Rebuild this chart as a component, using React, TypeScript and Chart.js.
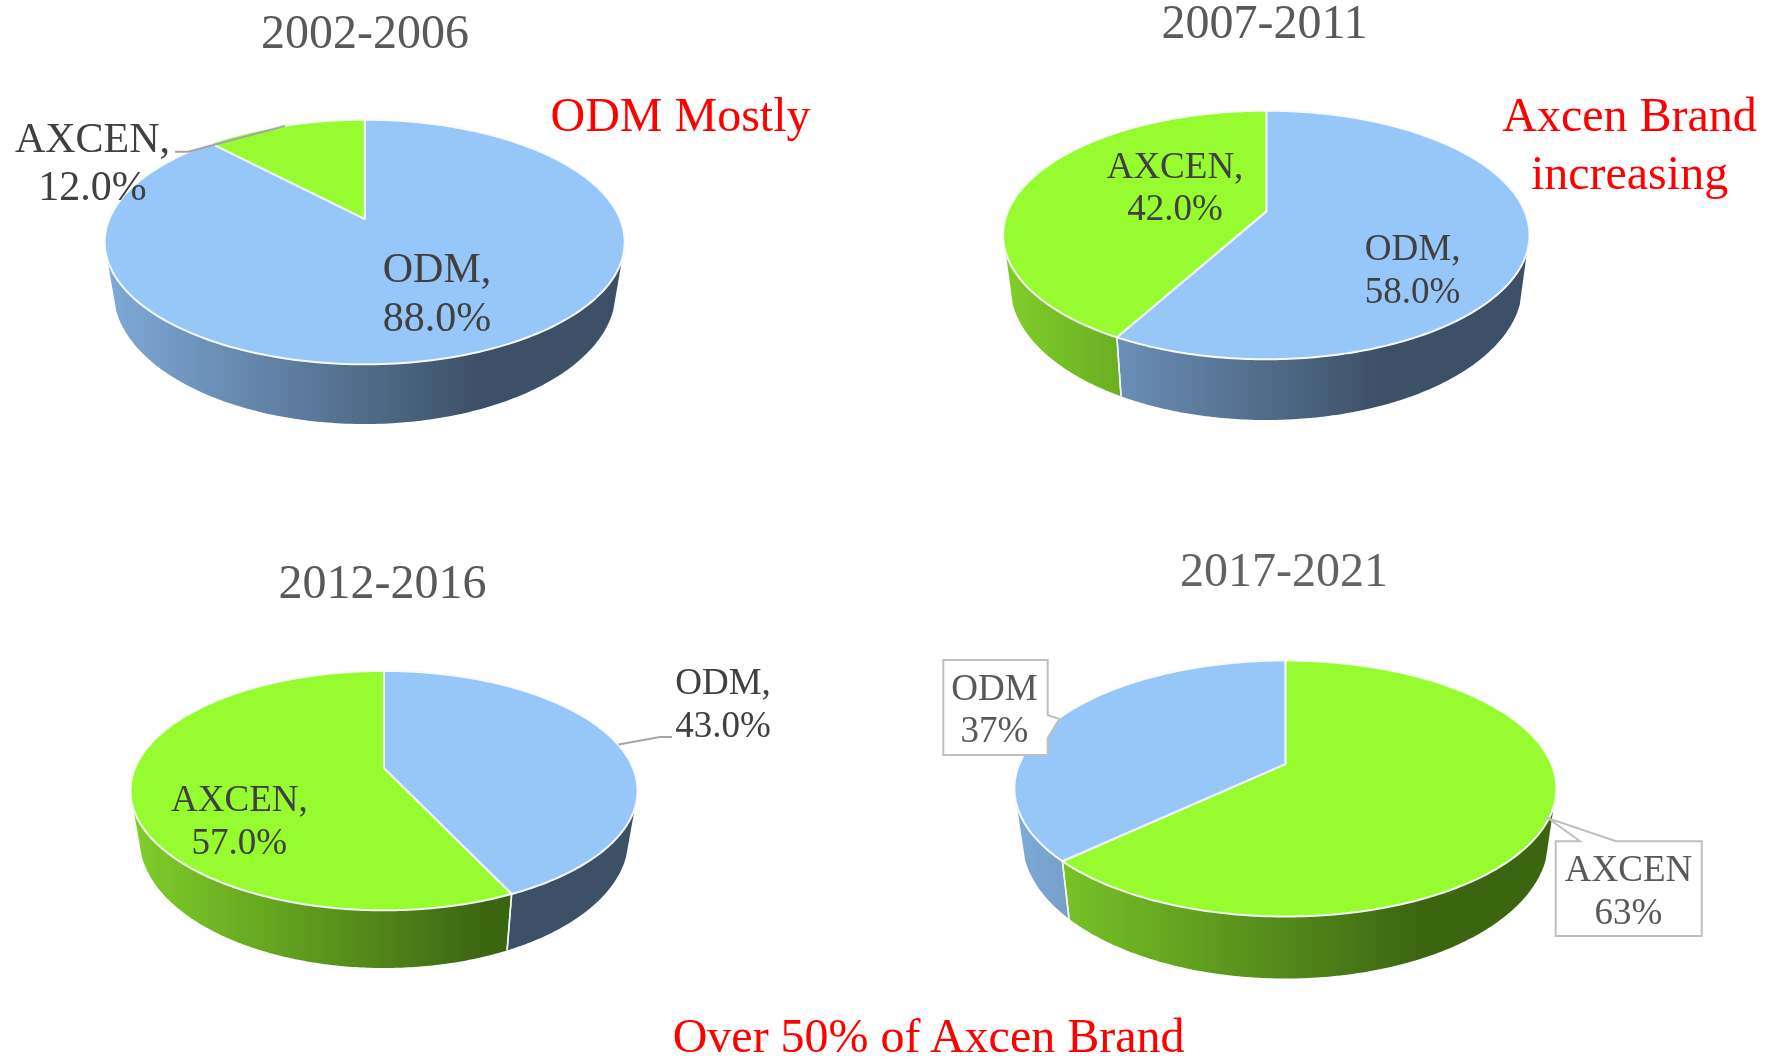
import React, { useEffect, useRef } from "react";
import { Chart, registerables } from "chart.js";

Chart.register(...registerables);

// ---- data ----
const PERIODS = ["2002-2006", "2007-2011", "2012-2016", "2017-2021"];
const ODM_SHARE = [88, 58, 43, 37];
const AXCEN_SHARE = [12, 42, 57, 63];
const AXCEN_FIRST = [false, false, false, true];
const ANNOTATIONS = ["ODM Mostly", "Axcen Brand", "increasing", "Over 50% of Axcen Brand"];

// ---- styles and layout ----
const W = 1768;
const H = 1059;
const SERIF = '"Liberation Serif", "Times New Roman", serif';
const TOP_COLOR: Record<string, string> = { ODM: "#97c6f9", AXCEN: "#97fc2f" };
const WALL_COLOR: Record<string, [string, string]> = {
  ODM: ["#7faad8", "#3c5067"],
  AXCEN: ["#80cf2a", "#3c6512"],
};

type Spot = { x: number; y1: number; y2: number };
type Layout = {
  cx: number; cy: number; rx: number; ry: number; k: number;
  rxB: number; bottom: number; titleX: number; titleY: number; fade: number;
  fontSize: number; textColor: string; callout: boolean;
  spots: Record<string, Spot>;
  leader?: number[][];
  boxes?: { x0: number; y0: number; x1: number; y1: number; wedge: number[][]; side: "right" | "top" }[];
};

const LAYOUTS: Layout[] = [
  {
    cx: 364.7, cy: 242, rx: 260, ry: 122.3, k: 0.189, rxB: 251, bottom: 424,
    titleX: 365, titleY: 35.5, fade: 0.72, fontSize: 42, textColor: "#404040", callout: false,
    spots: { AXCEN: { x: 92.5, y1: 152, y2: 200 }, ODM: { x: 437, y1: 282, y2: 331 } },
    leader: [[175, 151.7], [188.3, 151.7], [285, 126]],
  },
  {
    cx: 1266.3, cy: 235, rx: 263.2, ry: 124.3, k: 0.19, rxB: 256, bottom: 420,
    titleX: 1264.5, titleY: 25.5, fade: 0.72, fontSize: 37, textColor: "#404040", callout: false,
    spots: { AXCEN: { x: 1175, y1: 177.5, y2: 220 }, ODM: { x: 1412.6, y1: 260, y2: 303 } },
  },
  {
    cx: 384, cy: 790.6, rx: 253.5, ry: 119.7, k: 0.187, rxB: 244.5, bottom: 968,
    titleX: 382.5, titleY: 585, fade: 0.7, fontSize: 37, textColor: "#404040", callout: false,
    spots: { AXCEN: { x: 239.4, y1: 811, y2: 854 }, ODM: { x: 723, y1: 694, y2: 737 } },
    leader: [[618.5, 744.6], [660, 737], [672, 737]],
  },
  {
    cx: 1285.4, cy: 788.5, rx: 271, ry: 128, k: 0.19, rxB: 263, bottom: 978.5,
    titleX: 1284, titleY: 573, fade: 0.75, fontSize: 37, textColor: "#595959", callout: true,
    spots: { ODM: { x: 994.5, y1: 699.7, y2: 742 }, AXCEN: { x: 1628.5, y1: 881, y2: 924 } },
    boxes: [
      { x0: 943.3, y0: 660, x1: 1047.7, y1: 755, side: "right", wedge: [[1047.7, 715], [1059.3, 719], [1047.7, 738.3]] },
      { x0: 1555.7, y0: 841.3, x1: 1701.7, y1: 936, side: "top", wedge: [[1616, 841.3], [1548.3, 818.3], [1580, 841.3]] },
    ],
  },
];

// Perspective of the tilted disc: the hub sits above the middle of the ellipse.
function project(alpha: number, k: number) {
  const u = Math.cos(alpha);
  const v = -Math.sin(alpha);
  const d = 1 + k * v;
  return { u: (u * Math.sqrt(1 - k * k)) / d, v: (v + k) / d };
}

const WALL_START = -0.14; // edge of the wall, as a fraction of the vertical radius
const LOWER_RIM_STRETCH = 1.08; // the lower rim bulges more than the top rim

function makePlugin(layout: Layout) {
  const { cx, cy, rx, ry, k, rxB, bottom } = layout;
  const ryB = ry * LOWER_RIM_STRETCH;
  const cyB = bottom - ryB;
  const top = (a: number) => {
    const p = project(a, k);
    return [cx + rx * p.u, cy - ry * p.v];
  };
  const low = (a: number) => {
    const p = project(a, k);
    return [cx + rxB * p.u, cyB - ryB * p.v];
  };
  const vis = (WALL_START - k) / (1 - k * WALL_START);
  const a0 = Math.asin(-vis);
  const a1 = Math.PI - a0;

  return {
    id: "disc3d",
    beforeDatasetDraw(chart: any) {
      const ctx: CanvasRenderingContext2D = chart.ctx;
      const arcs = chart.getDatasetMeta(0).data;
      const names: string[] = chart.data.labels;
      ctx.save();
      // side walls
      arcs.forEach((arc: any, i: number) => {
        const s = Math.max(arc.startAngle, a0);
        const e = Math.min(arc.endAngle, a1);
        if (e <= s) return;
        const grad = ctx.createLinearGradient(cx - rx, 0, cx + rx, 0);
        const [light, dark] = WALL_COLOR[names[i]];
        grad.addColorStop(0, light);
        grad.addColorStop(layout.fade, dark);
        grad.addColorStop(1, dark);
        ctx.beginPath();
        const steps = 160;
        for (let j = 0; j <= steps; j++) {
          const [x, y] = top(s + ((e - s) * j) / steps);
          j ? ctx.lineTo(x, y) : ctx.moveTo(x, y);
        }
        for (let j = steps; j >= 0; j--) {
          const [x, y] = low(s + ((e - s) * j) / steps);
          ctx.lineTo(x, y);
        }
        ctx.closePath();
        ctx.fillStyle = grad;
        ctx.fill();
      });
      // white seam between wall pieces
      arcs.forEach((arc: any) => {
        [arc.startAngle, arc.endAngle].forEach((a: number) => {
          if (a <= a0 || a >= a1) return;
          const [x0, y0] = top(a);
          const [x1, y1] = low(a);
          ctx.beginPath();
          ctx.moveTo(x0, y0);
          ctx.lineTo(x1, y1);
          ctx.strokeStyle = "#f4f6f2";
          ctx.lineWidth = 1.5;
          ctx.stroke();
        });
      });
      // top faces
      arcs.forEach((arc: any) => {
        const s = arc.startAngle;
        const e = arc.endAngle;
        ctx.beginPath();
        ctx.moveTo(cx, cy - ry * k);
        const steps = 240;
        for (let j = 0; j <= steps; j++) {
          const [x, y] = top(s + ((e - s) * j) / steps);
          ctx.lineTo(x, y);
        }
        ctx.closePath();
        ctx.fillStyle = arc.options.backgroundColor;
        ctx.fill();
        ctx.strokeStyle = arc.options.borderColor;
        ctx.lineWidth = arc.options.borderWidth;
        ctx.lineJoin = "round";
        ctx.stroke();
      });
      ctx.restore();
      return false;
    },
    afterDatasetsDraw(chart: any) {
      const ctx: CanvasRenderingContext2D = chart.ctx;
      const names: string[] = chart.data.labels;
      const values: number[] = chart.data.datasets[0].data;
      ctx.save();
      if (layout.leader) {
        ctx.beginPath();
        layout.leader.forEach(([x, y], i) => (i ? ctx.lineTo(x, y) : ctx.moveTo(x, y)));
        ctx.strokeStyle = "#a6a6a6";
        ctx.lineWidth = 2;
        ctx.stroke();
      }
      (layout.boxes || []).forEach((b) => {
        ctx.beginPath();
        ctx.moveTo(b.x0, b.y0);
        if (b.side === "top") b.wedge.slice().reverse().forEach(([x, y]) => ctx.lineTo(x, y));
        ctx.lineTo(b.x1, b.y0);
        if (b.side === "right") b.wedge.forEach(([x, y]) => ctx.lineTo(x, y));
        ctx.lineTo(b.x1, b.y1);
        ctx.lineTo(b.x0, b.y1);
        ctx.closePath();
        ctx.fillStyle = "#ffffff";
        ctx.fill();
        ctx.strokeStyle = "#bfbfbf";
        ctx.lineWidth = 2;
        ctx.stroke();
      });
      ctx.font = `${layout.fontSize}px ${SERIF}`;
      ctx.fillStyle = layout.textColor;
      ctx.textAlign = "center";
      ctx.textBaseline = "alphabetic";
      names.forEach((name, i) => {
        const spot = layout.spots[name];
        const first = layout.callout ? name : `${name},`;
        const second = layout.callout ? `${values[i]}%` : `${values[i].toFixed(1)}%`;
        ctx.fillText(first, spot.x, spot.y1);
        ctx.fillText(second, spot.x, spot.y2);
      });
      ctx.restore();
    },
  };
}

function Pie({ index }: { index: number }) {
  const ref = useRef<HTMLCanvasElement | null>(null);
  useEffect(() => {
    if (!ref.current) return;
    const layout = LAYOUTS[index];
    const odm = { name: "ODM", value: ODM_SHARE[index] };
    const axcen = { name: "AXCEN", value: AXCEN_SHARE[index] };
    const slices = AXCEN_FIRST[index] ? [axcen, odm] : [odm, axcen];
    const half = 190;
    const chart = new Chart(ref.current, {
      type: "pie",
      data: {
        labels: slices.map((s) => s.name),
        datasets: [
          {
            data: slices.map((s) => s.value),
            backgroundColor: slices.map((s) => TOP_COLOR[s.name]),
            borderColor: "#f8faf6",
            borderWidth: 2,
          },
        ],
      },
      options: {
        responsive: false,
        animation: false,
        devicePixelRatio: 1,
        layout: {
          padding: { left: layout.titleX - half, right: W - layout.titleX - half, top: 0, bottom: 0 },
        },
        plugins: {
          legend: { display: false },
          tooltip: { enabled: false },
          title: {
            display: true,
            text: PERIODS[index],
            fullSize: false,
            color: index === 3 ? "#636363" : "#595959",
            font: { family: SERIF, size: 48, weight: "normal", lineHeight: 0.8 },
            padding: { top: layout.titleY - 19.2, bottom: 0 },
          },
        },
      },
      plugins: [makePlugin(layout)],
    } as any);
    return () => chart.destroy();
  }, [index]);
  return (
    <canvas
      ref={ref}
      width={W}
      height={H}
      style={{ position: "absolute", left: 0, top: 0, width: W, height: H, display: "block" }}
    />
  );
}

const noteStyle = (x: number, baseline: number): React.CSSProperties => ({
  position: "absolute",
  left: x,
  top: baseline - 39,
  transform: "translateX(-50%)",
  font: `48px/48px ${SERIF}`,
  color: "#ff0000",
  whiteSpace: "nowrap",
});

export default function App() {
  return (
    <div style={{ position: "absolute", left: 0, top: 0, width: W, height: H, overflow: "hidden", background: "#fff" }}>
      {PERIODS.map((_, i) => (
        <Pie key={i} index={i} />
      ))}
      <span style={noteStyle(680.5, 130)}>{ANNOTATIONS[0]}</span>
      <span style={noteStyle(1629.5, 130)}>{ANNOTATIONS[1]}</span>
      <span style={noteStyle(1629.5, 187.6)}>{ANNOTATIONS[2]}</span>
      <span style={noteStyle(928.6, 1051)}>{ANNOTATIONS[3]}</span>
    </div>
  );
}
